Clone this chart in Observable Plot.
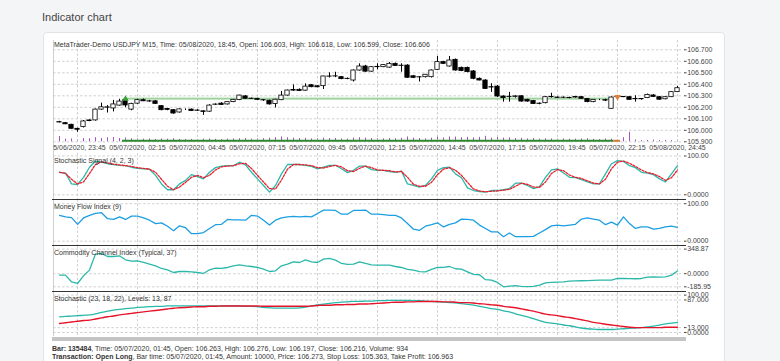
<!DOCTYPE html>
<html><head><meta charset="utf-8">
<script src="https://cdn.jsdelivr.net/npm/d3@7"></script>
<script src="https://cdn.jsdelivr.net/npm/@observablehq/plot@0.6"></script>
<style>
html,body{margin:0;padding:0;background:#f4f5f7;width:780px;height:361px;overflow:hidden;font-family:"Liberation Sans",Arial,sans-serif;}
#title{position:absolute;left:42px;top:11px;font-size:11px;color:#444;white-space:nowrap;}
#card{position:absolute;left:43px;top:32px;width:682px;height:345px;background:#fff;border:1px solid #e3e3e3;border-radius:4px;box-sizing:border-box;}
.panel{position:absolute;left:53px;width:667px;}
.panel svg{display:block;}
.lbl{position:absolute;left:54px;font-size:7px;color:#333;white-space:nowrap;line-height:1;}
.sep{position:absolute;left:52px;width:634px;height:0;border-top:1.4px solid #333;}
#lborder{position:absolute;left:52.5px;top:40px;height:296px;width:0;border-left:1px solid #cfcfcf;}
#scroll{position:absolute;left:52px;top:336.5px;width:634px;height:4px;background:#c4c4c4;}
b{font-weight:bold;}
</style>
</head><body>
<div id="title">Indicator chart</div>
<div id="card"></div>
<div id="lborder"></div>
<script>
// ---- data ----
const bars = d3.range(-3, 101); // bar offset (15-minute bars) relative to 05/06/2020 23:45
const xTicks = [0,10,20,30,40,50,60,70,80,90,100];
const xLabels = ["05/06/2020, 23:45","05/07/2020, 02:15","05/07/2020, 04:45","05/07/2020, 07:15","05/07/2020, 09:45","05/07/2020, 12:15","05/07/2020, 14:45","05/07/2020, 17:15","05/07/2020, 19:45","05/07/2020, 22:15","05/08/2020, 24:45"];
const priceTicks = [105.9,106.0,106.1,106.2,106.3,106.4,106.5,106.6,106.7];

const openP = [106.071,106.062,106.048,106.013,106.028,106.080,106.086,106.180,106.196,106.190,106.215,106.263,106.180,106.232,106.262,106.252,106.252,106.210,106.185,106.175,106.155,106.180,106.180,106.172,106.165,106.162,106.222,106.232,106.225,106.245,106.263,106.295,106.275,106.274,106.262,106.258,106.228,106.262,106.302,106.345,106.352,106.345,106.392,106.383,106.384,106.466,106.468,106.462,106.448,106.433,106.520,106.555,106.510,106.549,106.549,106.545,106.578,106.560,106.563,106.470,106.460,106.462,106.462,106.526,106.593,106.555,106.613,106.543,106.543,106.512,106.448,106.433,106.375,106.380,106.294,106.292,106.290,106.296,106.265,106.254,106.232,106.236,106.288,106.285,106.283,106.282,106.285,106.288,106.272,106.245,106.265,106.262,106.187,106.288,106.290,106.288,106.272,106.270,106.280,106.303,106.288,106.270,106.288,106.332];
const highP = [106.078,106.068,106.052,106.018,106.085,106.092,106.185,106.236,106.215,106.260,106.270,106.276,106.235,106.270,106.272,106.260,106.258,106.215,106.190,106.180,106.185,106.186,106.185,106.178,106.168,106.222,106.230,106.240,106.248,106.268,106.305,106.302,106.280,106.278,106.268,106.262,106.270,106.338,106.350,106.395,106.360,106.404,106.398,106.390,106.470,106.500,106.505,106.468,106.455,106.525,106.578,106.565,106.550,106.578,106.570,106.590,106.585,106.578,106.570,106.475,106.468,106.485,106.525,106.642,106.600,106.642,106.620,106.550,106.550,106.520,106.455,106.440,106.405,106.390,106.300,106.330,106.300,106.300,106.270,106.260,106.238,106.292,106.322,106.290,106.290,106.288,106.295,106.294,106.276,106.268,106.270,106.270,106.290,106.295,106.294,106.292,106.300,106.276,106.315,106.310,106.292,106.292,106.336,106.382];
const lowP = [106.064,106.050,106.010,105.984,106.020,106.075,106.080,106.175,106.150,106.160,106.210,106.197,106.170,106.225,106.250,106.245,106.225,106.170,106.170,106.140,106.150,106.172,106.163,106.165,106.130,106.158,106.216,106.218,106.220,106.240,106.258,106.270,106.268,106.262,106.252,106.220,106.195,106.258,106.298,106.338,106.338,106.340,106.370,106.370,106.355,106.455,106.458,106.440,106.440,106.420,106.515,106.505,106.505,106.526,106.545,106.540,106.556,106.505,106.452,106.450,106.420,106.455,106.455,106.520,106.575,106.550,106.515,106.510,106.500,106.440,106.430,106.355,106.330,106.285,106.245,106.245,106.280,106.245,106.245,106.225,106.222,106.230,106.280,106.278,106.276,106.274,106.280,106.272,106.240,106.240,106.258,106.250,106.185,106.280,106.284,106.262,106.245,106.262,106.276,106.285,106.262,106.265,106.285,106.328];
const closeP = [106.068,106.052,106.013,106.005,106.077,106.086,106.180,106.200,106.200,106.225,106.250,106.216,106.230,106.262,106.252,106.250,106.230,106.175,106.178,106.146,106.182,106.180,106.167,106.170,106.160,106.215,106.224,106.220,106.245,106.265,106.302,106.274,106.272,106.265,106.260,106.225,106.266,106.302,106.346,106.350,106.342,106.380,106.375,106.374,106.468,106.468,106.470,106.445,106.446,106.520,106.555,106.510,106.549,106.552,106.567,106.578,106.560,106.562,106.457,106.456,106.462,106.483,106.520,106.593,106.578,106.607,106.520,106.515,106.506,106.448,106.433,106.360,106.372,106.294,106.280,106.290,106.295,106.250,106.250,106.228,106.230,106.288,106.290,106.282,106.284,106.280,106.290,106.274,106.245,106.265,106.265,106.258,106.285,106.290,106.288,106.265,106.270,106.272,106.308,106.290,106.266,106.288,106.332,106.366];
const volume = [1300,650,700,500,800,750,1000,800,1000,1050,800,934,750,700,650,700,600,700,650,750,600,550,600,500,650,700,600,550,650,700,750,800,650,700,750,900,1000,1200,1000,900,800,850,700,750,900,800,850,700,650,900,1000,900,800,750,700,800,750,850,1200,900,800,700,900,1400,950,1200,1150,1000,1100,950,1100,1350,900,1150,900,950,800,850,700,800,650,750,700,650,700,600,650,700,750,600,550,700,650,350,1000,2350,450,300,350,400,300,350,300,400];

const tradeOpenBar = 8, tradeCloseBar = 90, tradePrice = 106.273, tradeClosePrice = 106.29;

const ssMain = [58,56,28,26.5,45,71,87,84,80,78,76,75,71,68,67,66,50,28,13,13,28,37,52,47,41,58,70,74,75,75,84,77,58,41,24,7,24,54,78,78,78,76,73,67,71,76,76,67,57,63,74,74,65,63,63,60,58,61,28,24,20,24,41,63,70,71,54,44,18,11,8.5,7,11,11,13,16,30,30,24,16,21,45,64,67,56,45,44,39,33,28,28,54,80,88,86,75,70,58,56,52,41,33,54,75];
const ssSignal = [58,55,40,28,33,55,78,85,82,79,77,75,73,70,68,66,58,40,22,13,20,32,45,50,44,50,64,72,74,75,80,81,68,50,33,16,15,38,66,78,78,77,75,70,69,73,76,72,62,60,68,74,70,64,63,62,59,60,45,27,22,22,32,52,66,70,63,50,32,15,10,8,9,10,12,14,22,30,27,20,19,33,55,65,62,51,45,42,36,30,28,40,67,84,87,81,73,64,57,54,47,37,44,64];
const mfi = [69,65,63,45,62,69,74,76,60,58,65,58,67,67,62,56,47,49,40,28,41,36,20,20,23,34,44,45,58,57,57,56,69,67,56,43,56,62,65,66,65,66,65,74,83,83,82,72,72,82,82,83,72,72,71,69,69,62,47,32,29,40,44,49,38,45,49,59,58,56,43,34,25,25,12,22,12,12,12,13,22,31,41,43,41,43,45,59,62,59,56,44,51,43,65,47,34,38,38,32,34,38,40,37];
const cci = [-20,-20,-115,-139,-30,51,278,287,244,244,254,197,179,183,159,136,112,74,55,17,31,31,27,17,3,55,79,74,88,112,126,112,102,88,65,31,41,112,136,169,159,197,169,159,207,216,193,145,131,136,169,145,126,121,121,121,102,88,60,50,30,27,60,88,90,102,70,65,27,-10,-15,-85,-91,-124,-186,-175,-170,-180,-183,-180,-162,-130,-124,-120,-115,-105,-101,-100,-98,-95,-92,-90,-90,-68,-68,-70,-72,-68,-48,-44,-48,-44,-20,37];
const stK = [42,43,44,45,46,47,50,54,57,60,62,64,65,67,68,69,70,70,71,71,71,71,71,71,71,71,71,71,71,71,71,70,70,69,67,66,65,65,65,65,66,68,71,74,76,78,80,81,82,83,83,84,84,85,85,86,86,86,86,85,85,84,83,82,81,80,79,77,75,73,70,67,64,62,58,55,50,46,42,37,32,27,25,23,20,18,15,12,10,9,8,8,8,9,10,11,12,13,15,17,20,23,25,27];
const stD = [24,26,28,30,32,33,36,39,42,44,47,49,51,53,55,57,59,61,63,65,66,67,68,69,69,70,70,71,71,71,71,71,71,71,70,70,70,70,70,70,70,70,71,72,73,73,74,74,75,75,76,76,77,78,79,80,81,81,82,82,83,83,83,83,82,82,81,80,80,79,77,76,74,73,70,68,66,63,60,57,53,49,47,45,42,40,37,34,31,27,25,22,20,18,16,14,13,13,13,13,13,14,14,14];

const ssTicks = [0,100], ssLabels = ["0.0000","100.00"];
const mfiTicks = [0,100], mfiLabels = ["0.0000","100.00"];
const cciTicks = [-185.95,0,348.87], cciLabels = ["-185.95","0.0000","348.87"];
const stTicks = [0,13,87,100], stLabels = ["0.0000","13.000","87.000","100.00"];

const mainTitle = "MetaTrader-Demo USDJPY M15, Time: 05/08/2020, 18:45, Open: 106.603, High: 106.618, Low: 106.599, Close: 106.606";
const panelTitles = ["Stochastic Signal (4, 2, 3)","Money Flow Index (9)","Commodity Channel Index (Typical, 37)","Stochastic (23, 18, 22), Levels: 13, 87"];

// ---- build ----
const candles = bars.map((k,i)=>({k, open:openP[i], high:highP[i], low:lowP[i], close:closeP[i], vol:volume[i]}));
const series = (arr)=>bars.map((k,i)=>({k, v:arr[i]}));
const FONT = '"Liberation Sans", Arial, sans-serif';
const W = 667, MR = 37;
const GRID = {stroke:"#c4c4c4", strokeOpacity:1, strokeWidth:0.8, strokeDasharray:"2.5,2"};

function place(svg, top){
  const d = document.createElement("div");
  d.className = "panel"; d.style.top = top + "px";
  d.appendChild(svg); document.body.appendChild(d);
}
function base(opts, clip){
  return Object.assign({
    width: W, marginLeft: 0, marginRight: MR, marginTop: 0, marginBottom: 0,
    style: {background:"transparent", overflow: clip ? "hidden" : "visible", fontFamily: FONT, fontSize:"7px", color:"#444"}
  }, opts);
}
function yAxis(domain, ticks, labels){
  return {domain, axis:"right", ticks, tickFormat: d => labels[ticks.indexOf(d)], tickSize: 2.5, tickPadding: 1.2, label: null};
}

// volume overlay (own scale)
place(Plot.plot(base({
  height: 113, marginBottom: 11.7,
  x: {domain:[-4,101], axis:null},
  y: {domain:[0,25000], axis:null},
  marks: [Plot.ruleX(candles, {x:"k", y1:0, y2:"vol", stroke:"#a452c4", strokeWidth:1})]
}, true)), 40);

// main price panel
place(Plot.plot(base({
  height: 113, marginBottom: 11.7,
  x: {domain:[-4,101], ticks: xTicks, tickFormat: d => xLabels[xTicks.indexOf(d)], tickSize:0, tickPadding:3, label:null},
  y: {domain:[105.9,106.781], axis:"right", ticks: priceTicks, tickFormat: d3.format(".3f"), tickSize:2.5, tickPadding:1.2, label:null},
  marks: [
    Plot.ruleY(priceTicks, GRID),
    Plot.ruleX(xTicks, GRID),
    Plot.ruleY([tradePrice], {x1: tradeOpenBar - 0.3, x2: tradeCloseBar - 0.6, stroke:"#dcefdc", strokeWidth:2, dy:-1.2}),
    Plot.ruleY([tradePrice], {x1: tradeOpenBar - 0.3, x2: tradeCloseBar - 0.6, stroke:"#5cb45c", strokeWidth:0.9}),
    Plot.ruleY([105.9], {x1: tradeOpenBar - 0.5, x2: tradeCloseBar - 0.6, stroke:"#2f8a2f", strokeWidth:2, dy:-1}),
    Plot.ruleY([105.9], {x1: tradeCloseBar - 0.6, x2: tradeCloseBar + 0.5, stroke:"#d9773a", strokeWidth:2, dy:-1}),
    Plot.ruleX(candles, {x:"k", y1:"low", y2:"high", stroke:"#000", strokeWidth:1}),
    Plot.rect(candles, {x1: d => d.k - 0.36, x2: d => d.k + 0.36, y1:"open", y2:"close", fill: d => d.close >= d.open ? "#fff" : "#000", stroke:"#000", strokeWidth:0.8}),
    Plot.dot([{k:tradeOpenBar, p:tradePrice}], {x:"k", y:"p", symbol:"triangle", r:2.4, fill:"#3aa23a", stroke:"none"}),
    Plot.dot([{k:tradeCloseBar, p:tradeClosePrice}], {x:"k", y:"p", symbol:"triangle", r:2.4, fill:"#e0823c", stroke:"none", rotate:180})
  ]
}, true)), 40);

// stochastic signal
place(Plot.plot(base({
  height: 46.3,
  x: {domain:[-4,101], axis:null},
  y: yAxis([-12.9,106.4], ssTicks, ssLabels),
  marks: [
    Plot.ruleY(ssTicks, GRID), Plot.ruleX(xTicks, GRID),
    Plot.line(series(ssMain), {x:"k", y:"v", stroke:"#2bb8aa", strokeWidth:1.3}),
    Plot.line(series(ssSignal), {x:"k", y:"v", stroke:"#e8202c", strokeWidth:1.3, strokeDasharray:"2,1.5"})
  ]
})), 153);

// money flow index
place(Plot.plot(base({
  height: 46.4,
  x: {domain:[-4,101], axis:null},
  y: yAxis([-12.5,111.2], mfiTicks, mfiLabels),
  marks: [
    Plot.ruleY(mfiTicks, GRID), Plot.ruleX(xTicks, GRID),
    Plot.line(series(mfi), {x:"k", y:"v", stroke:"#1c9fe2", strokeWidth:1.3})
  ]
})), 199.3);

// commodity channel index
place(Plot.plot(base({
  height: 46,
  x: {domain:[-4,101], axis:null},
  y: yAxis([-266.8,385.75], cciTicks, cciLabels),
  marks: [
    Plot.ruleY(cciTicks, GRID), Plot.ruleX(xTicks, GRID),
    Plot.line(series(cci), {x:"k", y:"v", stroke:"#2bb8aa", strokeWidth:1.3})
  ]
})), 245.7);

// stochastic
place(Plot.plot(base({
  height: 44.3,
  x: {domain:[-4,101], axis:null},
  y: yAxis([-11.5,106.95], stTicks, stLabels),
  marks: [
    Plot.ruleY(stTicks, GRID), Plot.ruleX(xTicks, GRID),
    Plot.line(series(stK), {x:"k", y:"v", stroke:"#2bb8aa", strokeWidth:1.3, curve:"monotone-x"}),
    Plot.line(series(stD), {x:"k", y:"v", stroke:"#e5142a", strokeWidth:1.4, curve:"monotone-x"})
  ]
})), 291.7);

// separators, labels, footer
function addDiv(cls, top, html){
  const d = document.createElement("div"); d.className = cls; d.style.top = top + "px";
  if (html != null) d.innerHTML = html; document.body.appendChild(d); return d;
}
[199.3, 245.7, 291.7].forEach(t => addDiv("sep", t - 0.7));
addDiv("lbl", 40.5, mainTitle);
[156.5, 202.5, 248.8, 294.8].forEach((t,i) => addDiv("lbl", t, panelTitles[i]));
const sc = document.createElement("div"); sc.id = "scroll"; document.body.appendChild(sc);
addDiv("lbl", 344.8, "<b>Bar: 135484</b>, Time: 05/07/2020, 01:45, Open: 106.263, High: 106.276, Low: 106.197, Close: 106.216, Volume: 934").style.left = "52px";
addDiv("lbl", 353.0, "<b>Transaction: Open Long</b>, Bar time: 05/07/2020, 01:45, Amount: 10000, Price: 106.273, Stop Loss: 105.363, Take Profit: 106.963").style.left = "52px";
</script>
</body></html>
